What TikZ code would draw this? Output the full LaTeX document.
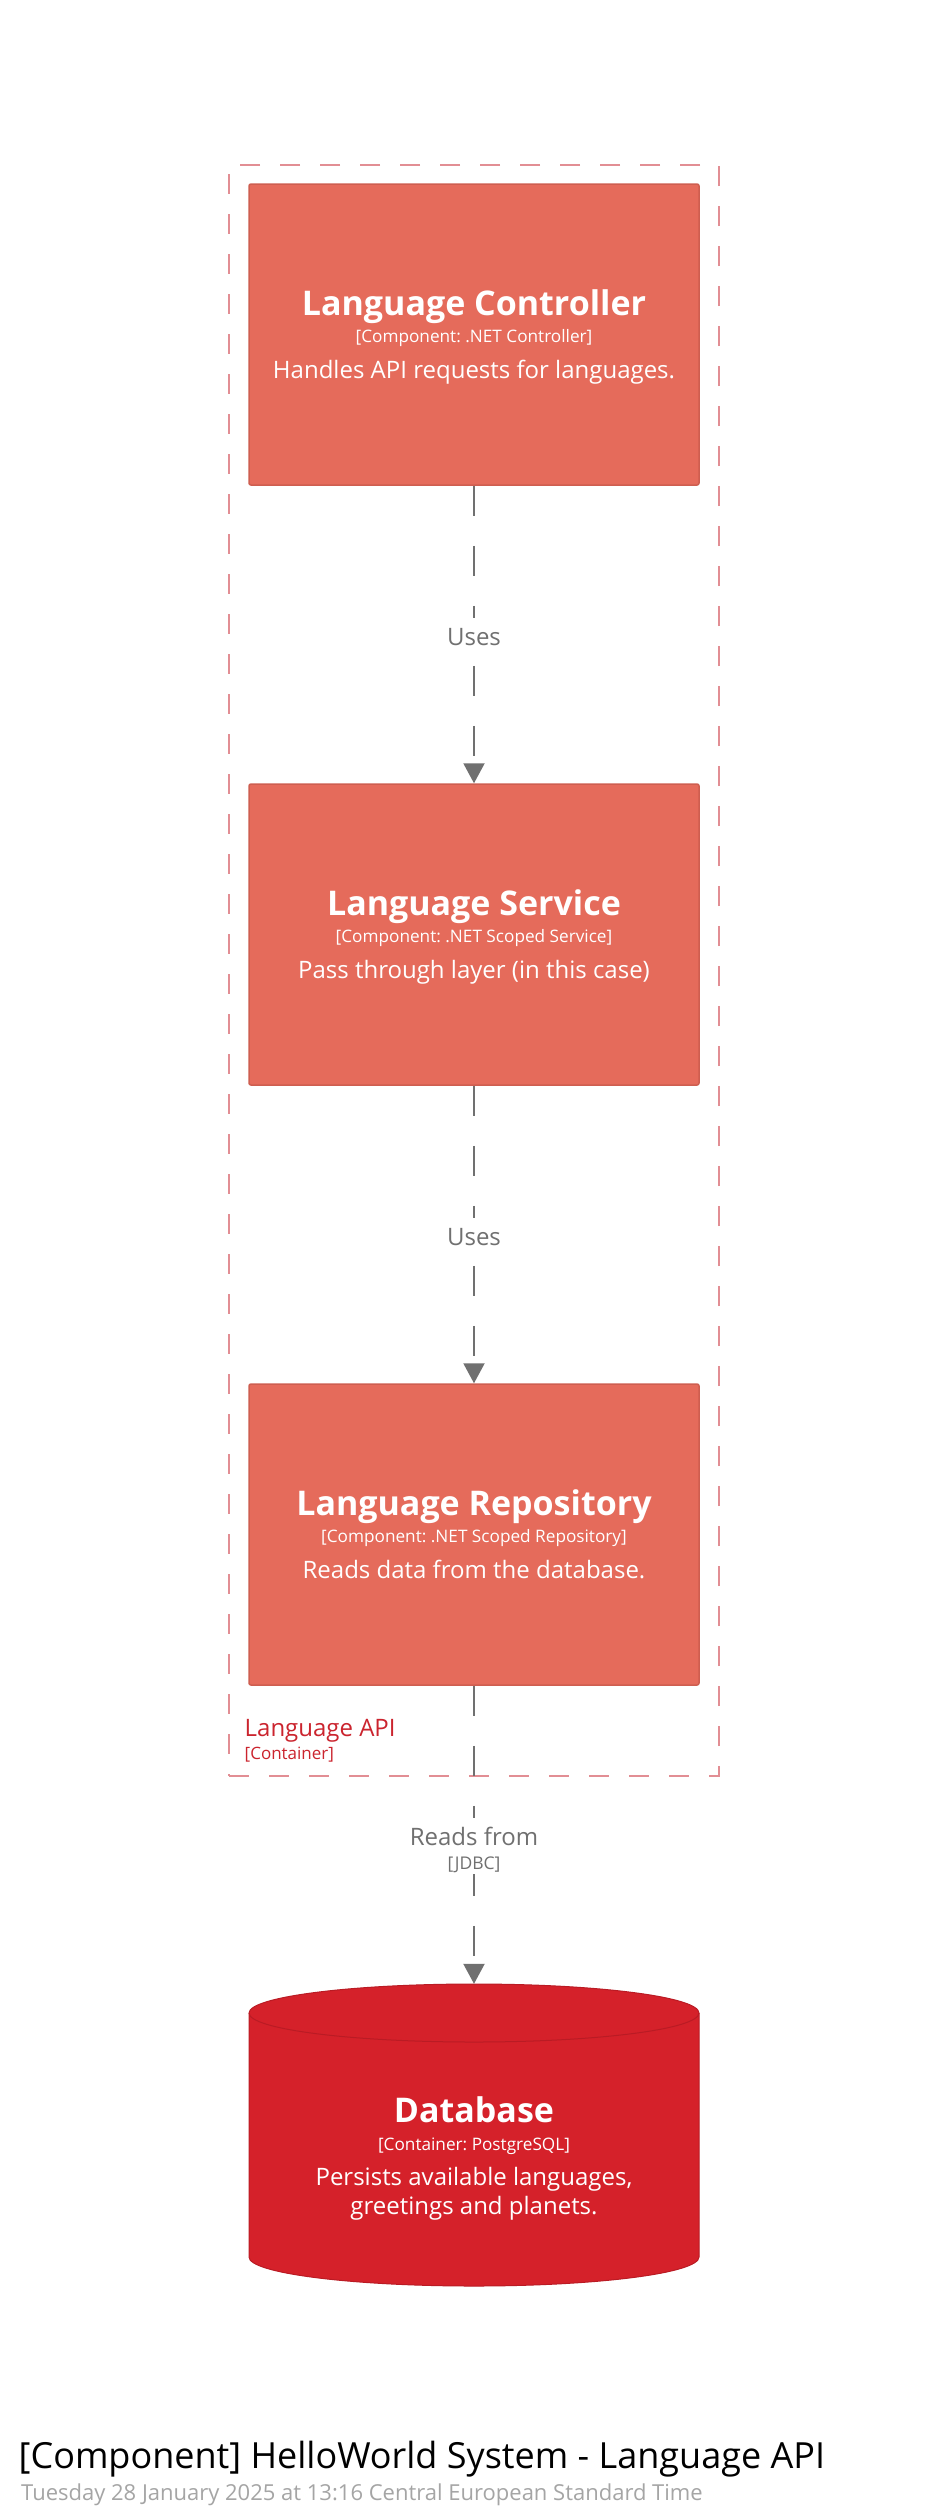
\documentclass[tikz,border=0pt]{standalone}
\usepackage{fontspec}
\setmainfont{Open Sans}
\usetikzlibrary{arrows.meta}
\definecolor{boxfill}{RGB}{229,107,91}
\definecolor{boxline}{RGB}{206,94,80}
\definecolor{dbfill}{RGB}{213,33,42}
\definecolor{dbline}{RGB}{186,27,36}
\definecolor{bndline}{RGB}{226,142,148}
\definecolor{bndtext}{RGB}{203,36,46}
\definecolor{relgray}{RGB}{112,112,112}
\definecolor{dategray}{RGB}{165,165,165}
\newcommand\setfs[1]{\fontsize{#1pt}{#1pt}\selectfont}
\frenchspacing
\tikzset{
  comp/.style={draw=boxline, line width=1.5pt, fill=boxfill, rounded corners=2pt,
    minimum width=450pt, minimum height=301pt, inner sep=0pt},
  elname/.style={anchor=base, text=white, inner sep=0pt, font=\frenchspacing\bfseries\setfs{34}},
  elmeta/.style={anchor=base, text=white, inner sep=0pt, font=\frenchspacing\setfs{17.2}},
  eldesc/.style={anchor=base, text=white, inner sep=0pt, font=\frenchspacing\setfs{24}},
  rel/.style={draw=relgray, line width=2pt, dash pattern=on 30pt off 30pt,
    -{Triangle[width=21pt,length=20pt]}},
  rellbl/.style={anchor=base, text=relgray, fill=white, inner xsep=4pt,
    font=\setfs{24}},
  reltech/.style={anchor=base, text=relgray, fill=white, inner xsep=4pt,
    font=\setfs{17.5}},
  boundary/.style={draw=bndline, line width=2pt, dash pattern=on 20pt off 20pt,
    minimum width=490pt, minimum height=1611pt, inner sep=0pt},
}
\begin{document}
\begin{tikzpicture}[x=1pt,y=-1pt]
\useasboundingbox (0,0) rectangle (950,2520);
\fill[white] (0,0) rectangle (950,2520);

% container boundary
\node[boundary] (api) at (474,970.5) {};
\node[anchor=base west, inner sep=0pt, text=bndtext, font=\setfs{24}] (apiname) at (244.5,1736.7) {Language API};
\node[anchor=base west, inner sep=0pt, text=bndtext, font=\setfs{17}] (apitype) at (244.5,1759.5) {[Container]};

% components
\node[comp] (lc) at (474,334.5) {};
\node[elname] (lcn) at (474,315) {Language Controller};
\node[elmeta] (lct) at (474,342.3) {[Component: .NET Controller]};
\node[eldesc] (lcd) at (474,378.3) {Handles API requests for languages.};

\node[comp] (ls) at (474,934.5) {};
\node[elname] (lsn) at (474,915) {Language Service};
\node[elmeta] (lst) at (474,942.5) {[Component: .NET Scoped Service]};
\node[eldesc] (lsd) at (474,978.3) {Pass through layer (in this case)};

\node[comp] (lr) at (474,1534.5) {};
\node[elname] (lrn) at (474,1515) {Language Repository};
\node[elmeta] (lrt) at (474,1542.5) {[Component: .NET Scoped Repository]};
\node[eldesc] (lrd) at (474,1578.3) {Reads data from the database.};

% database cylinder
\node[minimum width=450pt, minimum height=302pt, inner sep=0pt] (db) at (474,2135) {};
\fill[dbfill, draw=dbline, line width=1pt]
  (249,2013) -- (249,2257)
  .. controls (249,2273) and (349.7,2286) .. (474,2286)
  .. controls (598.3,2286) and (699,2273) .. (699,2257)
  -- (699,2013)
  .. controls (699,1997) and (598.3,1984) .. (474,1984)
  .. controls (349.7,1984) and (249,1997) .. (249,2013) -- cycle;
\draw[dbline, line width=1pt]
  (249,2013) .. controls (249,2029) and (349.7,2042) .. (474,2042)
  .. controls (598.3,2042) and (699,2029) .. (699,2013);
\node[elname] (dbn) at (474,2122.7) {Database};
\node[elmeta] (dbt) at (474,2150.7) {[Container: PostgreSQL]};
\node[eldesc] (dbd1) at (474,2185.7) {Persists available languages,};
\node[eldesc] (dbd2) at (474,2214.3) {greetings and planets.};

% relationships
\draw[rel] (lc.south) -- (ls.north)
  node[rellbl, pos=0.5375, text height=18pt, text depth=9pt, inner ysep=10pt] (u1) {Uses};
\draw[rel] (ls.south) -- (lr.north)
  node[rellbl, pos=0.5375, text height=18pt, text depth=9pt, inner ysep=10pt] (u2) {Uses};
\draw[rel] (lr.south) -- (db.north)
  node[rellbl, pos=0.535, text height=18pt, text depth=6pt, inner ysep=9pt] (rf) {Reads from}
  node[reltech, pos=0.6154, text height=12pt, text depth=3pt, inner ysep=2pt] (rft) {[JDBC]};

% title
\node[anchor=base west, inner sep=0pt, text=black, font=\setfs{36}] (title) at (18.5,2468) {[Component] HelloWorld System - Language API};
\node[anchor=base west, inner sep=0pt, text=dategray, font=\setfs{22}] (date) at (21,2500) {Tuesday 28 January 2025 at 13:16 Central European Standard Time};
\end{tikzpicture}
\end{document}
